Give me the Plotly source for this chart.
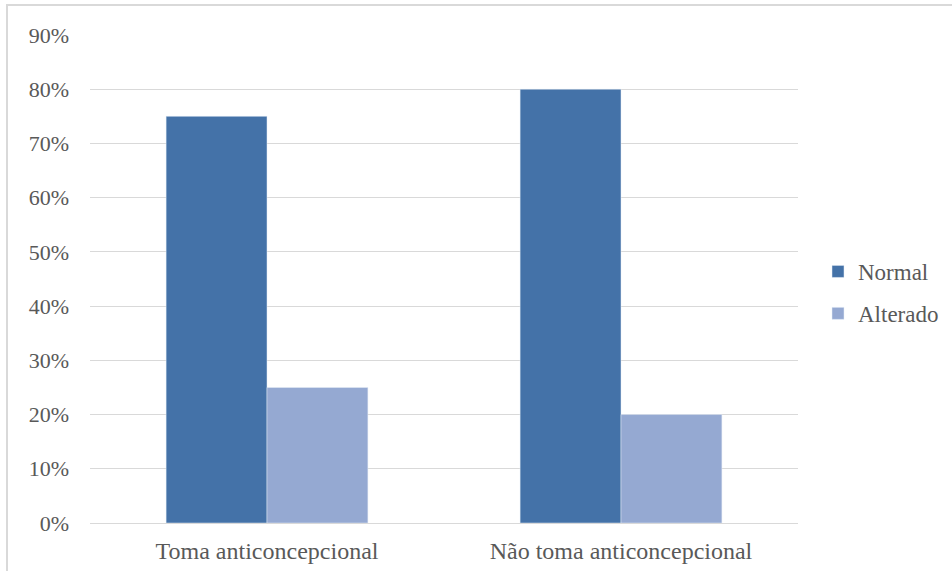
import plotly.graph_objects as go

categories = ["Toma anticoncepcional", "Não toma anticoncepcional"]
normal = [0.75, 0.80]
alterado = [0.25, 0.20]
series_names = ["Normal", "Alterado"]

W, H = 952, 571
L, R, T, B = 90, 154, 35, 48
pw, ph = W - L - R, H - T - B
FONT = "Liberation Serif, Times New Roman, serif"

def px_x(x):
    return (x - L) / pw

def px_y(y):
    return (H - B - y) / ph

fig = go.Figure()
fig.add_trace(go.Bar(x=categories, y=normal, name=series_names[0],
                     marker_color="#4472A8", legendgroup="a"))
fig.add_trace(go.Bar(x=categories, y=alterado, name=series_names[1],
                     marker_color="#95A9D2", legendgroup="b"))

fig.update_layout(
    width=W, height=H,
    margin=dict(l=L, r=R, t=T, b=B, autoexpand=False),
    paper_bgcolor="white", plot_bgcolor="white",
    barmode="group", bargap=0.43, bargroupgap=0,
    font=dict(family=FONT, size=22, color="#595959"),
    legend=dict(xref="container", yref="container", x=818 / W, y=1 - 250 / H,
                xanchor="left", yanchor="top",
                font=dict(family=FONT, size=23, color="#595959"), tracegroupgap=9,
                itemwidth=30),
    showlegend=True,
)
fig.update_xaxes(showgrid=False, showline=True, linecolor="#D9D9D9", linewidth=1,
                 ticks="", ticklabelstandoff=6,
                 tickfont=dict(family=FONT, size=24, color="#595959"))
fig.update_yaxes(range=[0, 0.9], dtick=0.1, tickformat=".0%", showgrid=True,
                 gridcolor="#D9D9D9", gridwidth=1, zeroline=False, ticks="",
                 ticklabelstandoff=20,
                 tickfont=dict(family=FONT, size=22, color="#595959"))

fig.add_shape(type="rect", xref="paper", yref="paper",
              x0=px_x(7), x1=px_x(W + 10), y0=px_y(H + 10), y1=px_y(5),
              line=dict(color="#D9D9D9", width=2), fillcolor="rgba(0,0,0,0)")

fig.write_html("out.html", post_script="document.body.style.margin='0';",
               config={"displayModeBar": False})
